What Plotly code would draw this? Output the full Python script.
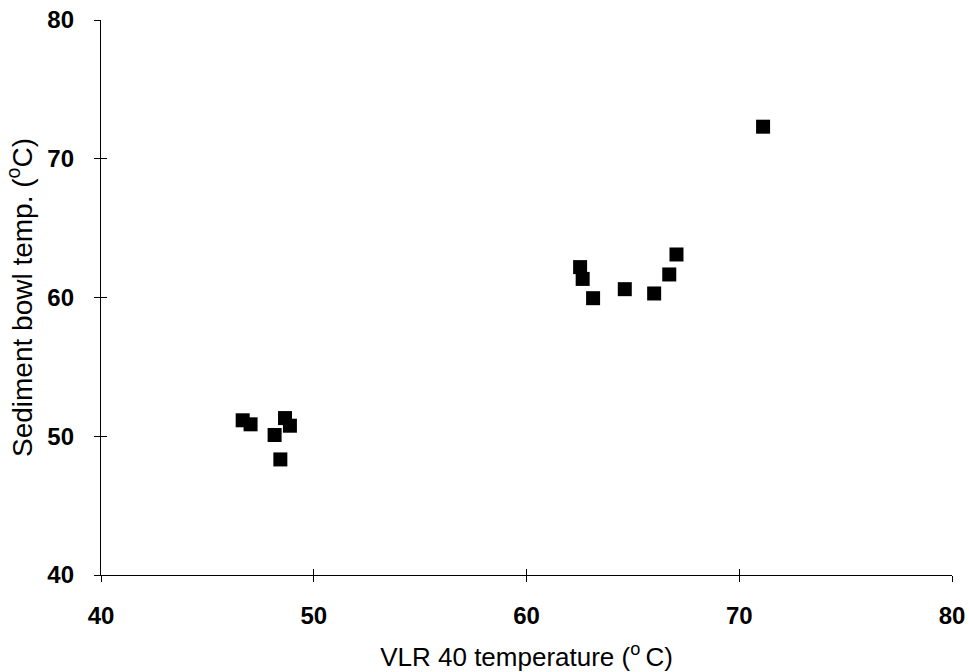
import plotly.graph_objects as go

vlr_temp = [46.66, 47.03, 48.16, 48.65, 48.88, 48.43,
            62.52, 62.64, 63.13, 64.62, 66.0, 66.71, 67.05, 71.12]
bowl_temp = [51.15, 50.86, 50.09, 51.31, 50.76, 48.33,
             62.19, 61.34, 59.95, 60.60, 60.29, 61.66, 63.10, 72.31]

x_ticks = [40, 50, 60, 70, 80]
y_ticks = [40, 50, 60, 70, 80]

fig = go.Figure()
fig.add_trace(go.Scatter(
    x=vlr_temp, y=bowl_temp, mode="markers",
    marker=dict(symbol="square", size=14, color="black", line=dict(width=0)),
    showlegend=False,
))
# invisible trace on overlay axes for the inner half of cross ticks
fig.add_trace(go.Scatter(x=[None], y=[None], xaxis="x2", yaxis="y2", showlegend=False))

font = "Liberation Sans, Arial, sans-serif"
common = dict(showgrid=False, zeroline=False, showline=True, linecolor="black", linewidth=1.3,
              ticks="outside", ticklen=6, tickwidth=1.2, tickcolor="black", automargin=False)

fig.update_layout(
    width=969, height=672,
    margin=dict(l=101, r=17, t=20, b=97),
    paper_bgcolor="white", plot_bgcolor="white",
    font=dict(family=font, color="black"),
    xaxis=dict(range=[40, 80], tickvals=x_ticks, ticktext=[f"<b>{v}</b>" for v in x_ticks],
               tickfont=dict(size=24, family=font), ticklabelstandoff=13,
               title=dict(text="VLR 40 temperature (<sup>o </sup>C)", font=dict(size=26, family=font), standoff=31),
               **common),
    yaxis=dict(range=[40, 80], tickvals=y_ticks, ticktext=[f"<b>{v}</b>" for v in y_ticks],
               tickfont=dict(size=24, family=font), ticklabelstandoff=15,
               title=dict(text="Sediment bowl temp. (<sup>o</sup>C)", font=dict(size=28, family=font), standoff=6),
               **common),
    xaxis2=dict(range=[40, 80], overlaying="x", tickvals=x_ticks, showticklabels=False,
                showgrid=False, zeroline=False, showline=False, ticks="inside", ticklen=6,
                tickwidth=1.2, tickcolor="black", side="bottom", anchor="y2"),
    yaxis2=dict(range=[40, 80], overlaying="y", tickvals=y_ticks, showticklabels=False,
                showgrid=False, zeroline=False, showline=False, ticks="inside", ticklen=6,
                tickwidth=1.2, tickcolor="black", side="left", anchor="x2"),
)

fig.write_html("out.html")
